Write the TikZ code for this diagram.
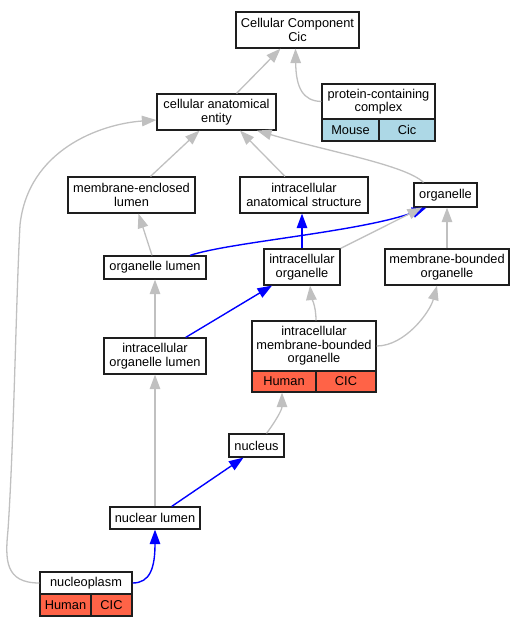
\documentclass[tikz,border=0pt]{standalone}
\usepackage{fontspec}
\setmainfont{Liberation Sans}
\usetikzlibrary{arrows.meta,calc}
\definecolor{edgegray}{RGB}{192,192,192}
\definecolor{mouseblue}{RGB}{173,216,230}
\definecolor{tomatored}{RGB}{255,99,71}
\definecolor{boxline}{RGB}{30,30,30}
\begin{document}
\begin{tikzpicture}[x=1pt,y=-1pt,
  box/.style={draw=boxline,line width=1.2pt,fill=white,inner sep=0pt,align=center,
    font=\fontsize{12.8}{13.5}\selectfont,minimum width=#1},
  box/.default=60pt,
  ge/.style={draw=edgegray,line width=1.3pt,-{Triangle[length=14.5pt,width=10.5pt,fill=edgegray]}},
  be/.style={draw=blue,line width=1.4pt,-{Triangle[length=14.5pt,width=10.5pt,fill=blue]}}]
\useasboundingbox (0,0) rectangle (524,627);
% nodes
\node[box=123pt,minimum height=36pt] (cc) at (297.5,30) {Cellular Component\\Cic};
\node[box=113pt,minimum height=35pt] (pcc) at (378.5,101.5) {protein-containing\\complex};
\node[box=57pt,minimum height=22pt,fill=mouseblue] (pccm) at (350.5,130) {Mouse};
\node[box=56pt,minimum height=22pt,fill=mouseblue] (pccc) at (407,130) {Cic};
\node[box=119pt,minimum height=36pt] (cae) at (216.5,112) {cellular anatomical\\entity};
\node[box=127pt,minimum height=36pt] (mel) at (131.5,195) {membrane-enclosed\\lumen};
\node[box=128pt,minimum height=36pt] (ias) at (304,195) {intracellular\\anatomical structure};
\node[box=63pt,minimum height=24pt] (org) at (445.5,195) {organelle};
\node[box=102pt,minimum height=23pt] (ol) at (155,267.5) {organelle lumen};
\node[box=76pt,minimum height=36pt] (io) at (302,267) {intracellular\\organelle};
\node[box=124pt,minimum height=36pt] (mbo) at (447,267) {membrane-bounded\\organelle};
\node[box=102pt,minimum height=36pt] (iol) at (155,356) {intracellular\\organelle lumen};
\node[box=124pt,minimum height=50pt] (imbo) at (314,346) {intracellular\\membrane-bounded\\organelle};
\node[box=64pt,minimum height=21pt,fill=tomatored] (imboh) at (284,381.5) {Human};
\node[box=60pt,minimum height=21pt,fill=tomatored] (imboc) at (346,381.5) {CIC};
\node[box=55pt,minimum height=23pt] (nuc) at (256.5,445.5) {nucleus};
\node[box=90pt,minimum height=22pt] (nl) at (155,518) {nuclear lumen};
\node[box=92pt,minimum height=22pt] (np) at (86,583) {nucleoplasm};
\node[box=51pt,minimum height=22pt,fill=tomatored] (nph) at (65.5,605) {Human};
\node[box=41pt,minimum height=22pt,fill=tomatored] (npc) at (111.5,605) {CIC};
% edges
\draw[ge] ($(cae.north)+(20,0)$) -- ($(cc.south)+(-17,0)$);
\draw[ge] (pcc.west) .. controls (303,101) and (296,88) .. ($(cc.south)+(-2,0)$);
\draw[ge] ($(mel.north)+(19,0)$) -- ($(cae.south)+(-17,0)$);
\draw[ge] ($(ias.north)+(-19,0)$) -- ($(cae.south)+(23.5,0)$);
\draw[ge] ($(org.north)+(-22,0)$) .. controls (405,165) and (330,152) .. ($(cae.south)+(40.5,0)$);
\draw[ge] (np.west) .. controls (5,583) and (5,560) .. (8,530)
   .. controls (14,440) and (16,300) .. (20,225)
   .. controls (28,150) and (100,124) .. ($(cae.west)+(0,8)$);
\draw[ge] ($(ol.north)+(-3,0)$) -- ($(mel.south)+(7,0)$);
\draw[be] ($(ol.north)+(35,0)$) .. controls (230,242) and (360,232) .. ($(org.south)+(-19,0)$);
\draw[be] (io.north) -- (io.north |- ias.south);
\draw[ge] (io.north east) -- ($(org.south)+(-23.5,0)$);
\draw[ge] (mbo.north) -- (mbo.north |- org.south);
\draw[ge] (iol.north) -- (ol.south);
\draw[be] ($(iol.north)+(30.7,0)$) -- ($(io.south)+(-30,0)$);
\draw[ge] ($(imbo.north)+(2,0)$) .. controls (316,305) and (311,296) .. ($(io.south)+(8,0)$);
\draw[ge] (imbo.east) .. controls (405,346) and (430,312) .. ($(mbo.south)+(-10,0)$);
\draw[ge] ($(nuc.north)+(10,0)$) .. controls (275,422) and (282,410) .. ($(imboh.south)+(-2,0)$);
\draw[ge] (nl.north) -- (iol.south);
\draw[be] ($(nl.north)+(16.7,0)$) -- ($(nuc.south)+(-13,0)$);
\draw[be] (np.east) .. controls (150,583) and (155,568) .. (nl.south);
\end{tikzpicture}
\end{document}
